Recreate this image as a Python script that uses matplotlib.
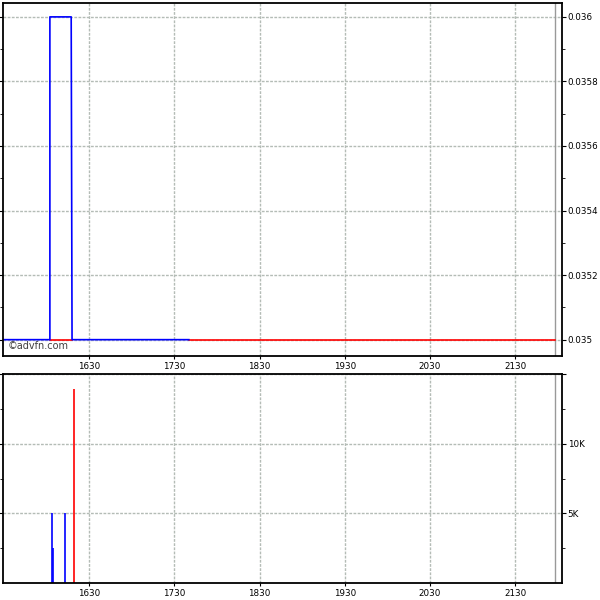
"""Price and volume chart in the advfn style: step price on top, volume spikes below."""
import matplotlib

matplotlib.use("Agg")
import matplotlib.pyplot as plt
from matplotlib.ticker import FixedLocator, FuncFormatter

plt.rcParams["font.family"] = ["DejaVu Sans"]

# price trace (blue), as steps
price_x = [1529, 1584, 1584, 1609, 1610, 1747]
price_y = [0.035, 0.035, 0.036, 0.036, 0.035, 0.035]
# reference line at the base (red)
ref_segments = [([1584, 1610], [0.035, 0.035]), ([1747, 2177], [0.035, 0.035])]

# volume spikes
vol_x = [1586.5, 1588, 1602, 1612]
vol_y = [5000, 2500, 5000, 13900]
vol_colors = ["#0000ff", "#0000ff", "#0000ff", "#ff0000"]

x_ticks = [1630, 1730, 1830, 1930, 2030, 2130]
price_ticks = [0.035, 0.0352, 0.0354, 0.0356, 0.0358, 0.036]
price_minor = [0.0351, 0.0353, 0.0355, 0.0357, 0.0359]
vol_ticks = [5000, 10000, 15000]
vol_minor = [2500, 7500, 12500]

XLIM = (1529, 2185)
GRID = "#b4bcb6"

fig = plt.figure(figsize=(6, 6), dpi=100)
ax1 = fig.add_axes([0.005, 0.407, 0.932, 0.588])
ax2 = fig.add_axes([0.005, 0.028, 0.932, 0.349])


def style(ax):
    ax.set_xlim(*XLIM)
    ax.set_xticks(x_ticks)
    ax.xaxis.set_major_formatter(FuncFormatter(lambda v, p: f"{v:.0f}"))
    ax.yaxis.tick_right()
    ax.tick_params(axis="y", which="both", left=True, right=True, direction="out",
                   labelsize=6.3, pad=1)
    ax.tick_params(axis="y", which="major", length=3)
    ax.tick_params(axis="y", which="minor", length=2.5)
    ax.tick_params(axis="x", length=2.5, labelsize=6.3, pad=2, direction="out")
    ax.grid(True, color=GRID, lw=1, ls=(0, (2, 1)))
    ax.axvline(2177, color="#999999", lw=1)
    for s in ax.spines.values():
        s.set_linewidth(1.3)
        s.set_color("black")


style(ax1)
ax1.set_ylim(0.03495, 0.036043)
ax1.yaxis.set_major_locator(FixedLocator(price_ticks))
ax1.yaxis.set_minor_locator(FixedLocator(price_minor))
ax1.yaxis.set_major_formatter(FuncFormatter(lambda v, p: f"{v:g}"))
for xs, ys in ref_segments:
    ax1.plot(xs, ys, color="#ff0000", lw=1.2)
ax1.plot(price_x, price_y, color="#0000ff", lw=1.2)
ax1.text(0.008, 0.015, "©advfn.com", transform=ax1.transAxes, fontsize=7,
         color="#404040", ha="left", va="bottom")

style(ax2)
ax2.set_ylim(0, 15000)
ax2.yaxis.set_major_locator(FixedLocator(vol_ticks))
ax2.yaxis.set_minor_locator(FixedLocator(vol_minor))
ax2.yaxis.set_major_formatter(FuncFormatter(lambda v, p: "" if v >= 15000 else f"{v / 1000:.0f}K"))
ax2.vlines(vol_x, 0, vol_y, colors=vol_colors, lw=1.2)

fig.savefig("out.png", dpi=100)
